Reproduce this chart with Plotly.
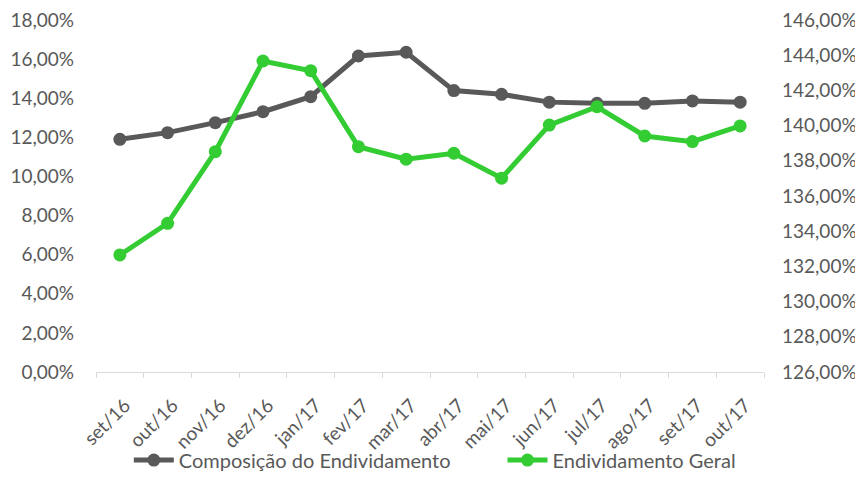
import plotly.graph_objects as go

categories = ["set/16", "out/16", "nov/16", "dez/16", "jan/17", "fev/17", "mar/17",
              "abr/17", "mai/17", "jun/17", "jul/17", "ago/17", "set/17", "out/17"]
composicao = [0.1190, 0.1224, 0.1275, 0.1331, 0.1408, 0.1616, 0.1635,
              0.1439, 0.1420, 0.1380, 0.1374, 0.1374, 0.1386, 0.1380]
endividamento_geral = [1.3265, 1.3445, 1.3852, 1.4367, 1.4312, 1.3880, 1.3809,
                       1.3843, 1.3701, 1.4003, 1.4107, 1.3941, 1.3909, 1.3998]

FONT = "Lato, 'Open Sans', sans-serif"
GREY = "#595959"
DARK = "#595959"
GREEN = "#33CC33"

fig = go.Figure()
fig.add_trace(go.Scatter(
    x=categories, y=composicao, name="Composição do Endividamento",
    mode="lines+markers", line=dict(color=DARK, width=5),
    marker=dict(size=13, color=DARK), yaxis="y", legend="legend"))
fig.add_trace(go.Scatter(
    x=categories, y=endividamento_geral, name="Endividamento Geral",
    mode="lines+markers", line=dict(color=GREEN, width=5),
    marker=dict(size=13, color=GREEN), yaxis="y2", legend="legend2"))

legend_common = dict(orientation="h", xanchor="left", yanchor="middle",
                     xref="container", yref="container",
                     font=dict(family=FONT, size=20, color=GREY), itemwidth=40,
                     bgcolor="rgba(0,0,0,0)")

fig.update_layout(
    width=863, height=499,
    margin=dict(l=88, r=107, t=12, b=135, autoexpand=False),
    paper_bgcolor="white", plot_bgcolor="white",
    separators=",.",
    font=dict(family=FONT, size=19, color=GREY),
    showlegend=True,
    legend=dict(x=0.14, y=0.094, **legend_common),
    legend2=dict(x=0.573, y=0.094, **legend_common),
    xaxis=dict(type="category", range=[-0.5, 13.5], showgrid=False, showline=True,
               linecolor="#D9D9D9", linewidth=1, ticks="outside",
               tickson="boundaries", ticklen=5, tickcolor="#D9D9D9",
               tickangle=-45, automargin=False, ticklabelstandoff=14,
               ticklabelshift=5, ticklabeloverflow="allow",
               tickfont=dict(family=FONT, size=19, color=GREY), zeroline=False),
    yaxis=dict(range=[0, 0.18], dtick=0.02, tickformat=".2%", showgrid=False,
               zeroline=False, showline=False, ticks="", ticklabelstandoff=21,
               automargin=False, ticklabeloverflow="allow",
               tickfont=dict(family=FONT, size=19, color=GREY)),
    yaxis2=dict(range=[1.26, 1.46], dtick=0.02, tickformat=".2%", overlaying="y",
                side="right", showgrid=False, zeroline=False, showline=False,
                ticks="", ticklabelstandoff=17, automargin=False,
                ticklabeloverflow="allow",
                tickfont=dict(family=FONT, size=19, color=GREY)),
)

fig.write_html("out.html")
